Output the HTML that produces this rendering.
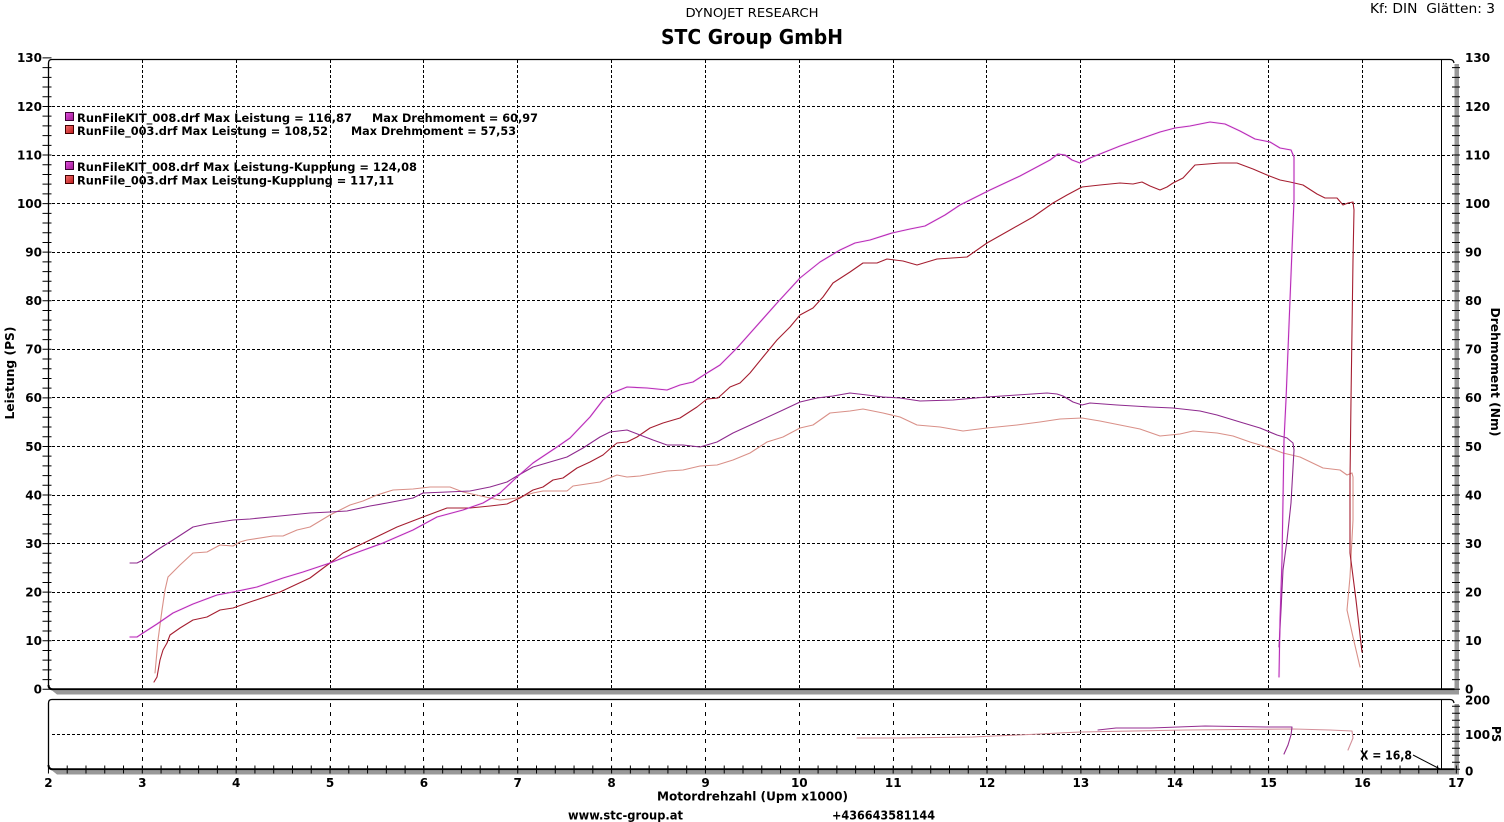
<!DOCTYPE html>
<html><head><meta charset="utf-8"><style>
html,body{margin:0;padding:0;background:#fff;}
svg{display:block;}
text{font-family:"DejaVu Sans","Liberation Sans",sans-serif;fill:#000;}
.b{font-weight:bold;font-size:12px;}
.lg{font-weight:bold;font-size:11.5px;}
</style></head><body>
<svg width="1504" height="822" viewBox="0 0 1504 822" xmlns="http://www.w3.org/2000/svg">
<defs>
<linearGradient id="gk" x1="0" y1="0" x2="1" y2="1"><stop offset="0" stop-color="#e050e0"/><stop offset="1" stop-color="#a01890"/></linearGradient>
<linearGradient id="gr" x1="0" y1="0" x2="1" y2="1"><stop offset="0" stop-color="#f07070"/><stop offset="1" stop-color="#c01818"/></linearGradient>
</defs>
<rect width="1504" height="822" fill="#fff"/>

<!-- titles -->
<text x="752" y="17" font-size="12.5" text-anchor="middle" textLength="133" lengthAdjust="spacingAndGlyphs">DYNOJET RESEARCH</text>
<text x="752" y="44" font-size="20" font-weight="bold" text-anchor="middle" textLength="182" lengthAdjust="spacingAndGlyphs">STC Group GmbH</text>
<text x="1370" y="13" font-size="13" textLength="125" lengthAdjust="spacingAndGlyphs">Kf: DIN&#160; Glätten: 3</text>

<!-- main grid -->
<g stroke="#000" stroke-width="1" stroke-dasharray="3 2" fill="none">
<line x1="142.5" y1="60" x2="142.5" y2="688"/>
<line x1="236.5" y1="60" x2="236.5" y2="688"/>
<line x1="330.5" y1="60" x2="330.5" y2="688"/>
<line x1="423.5" y1="60" x2="423.5" y2="688"/>
<line x1="517.5" y1="60" x2="517.5" y2="688"/>
<line x1="611.5" y1="60" x2="611.5" y2="688"/>
<line x1="705.5" y1="60" x2="705.5" y2="688"/>
<line x1="799.5" y1="60" x2="799.5" y2="688"/>
<line x1="893.5" y1="60" x2="893.5" y2="688"/>
<line x1="986.5" y1="60" x2="986.5" y2="688"/>
<line x1="1080.5" y1="60" x2="1080.5" y2="688"/>
<line x1="1174.5" y1="60" x2="1174.5" y2="688"/>
<line x1="1268.5" y1="60" x2="1268.5" y2="688"/>
<line x1="1362.5" y1="60" x2="1362.5" y2="688"/>
<line x1="52" y1="640.5" x2="1453" y2="640.5"/>
<line x1="52" y1="592.5" x2="1453" y2="592.5"/>
<line x1="52" y1="543.5" x2="1453" y2="543.5"/>
<line x1="52" y1="495.5" x2="1453" y2="495.5"/>
<line x1="52" y1="446.5" x2="1453" y2="446.5"/>
<line x1="52" y1="397.5" x2="1453" y2="397.5"/>
<line x1="52" y1="349.5" x2="1453" y2="349.5"/>
<line x1="52" y1="300.5" x2="1453" y2="300.5"/>
<line x1="52" y1="252.5" x2="1453" y2="252.5"/>
<line x1="52" y1="203.5" x2="1453" y2="203.5"/>
<line x1="52" y1="155.5" x2="1453" y2="155.5"/>
<line x1="52" y1="106.5" x2="1453" y2="106.5"/>
</g>

<!-- lower grid -->
<g stroke="#000" stroke-width="1" fill="none">
<g stroke-dasharray="4 5">
<line x1="142.5" y1="703" x2="142.5" y2="768"/>
<line x1="236.5" y1="703" x2="236.5" y2="768"/>
<line x1="330.5" y1="703" x2="330.5" y2="768"/>
<line x1="423.5" y1="703" x2="423.5" y2="768"/>
<line x1="517.5" y1="703" x2="517.5" y2="768"/>
<line x1="611.5" y1="703" x2="611.5" y2="768"/>
<line x1="705.5" y1="703" x2="705.5" y2="768"/>
<line x1="799.5" y1="703" x2="799.5" y2="768"/>
<line x1="893.5" y1="703" x2="893.5" y2="768"/>
<line x1="986.5" y1="703" x2="986.5" y2="768"/>
<line x1="1080.5" y1="703" x2="1080.5" y2="768"/>
<line x1="1174.5" y1="703" x2="1174.5" y2="768"/>
<line x1="1268.5" y1="703" x2="1268.5" y2="768"/>
<line x1="1362.5" y1="703" x2="1362.5" y2="768"/>
</g>
<line x1="52" y1="734.5" x2="1453" y2="734.5" stroke-dasharray="3 2"/>
</g>

<!-- main frame -->
<g fill="none" stroke="#000">
<path d="M48.5,686 L48.5,63 Q48.5,59.5 52,59.5 L1450,59.5 Q1453.5,59.5 1454,63" stroke-width="1.3"/>
<path d="M48.5,685 Q48.5,689.3 53,689.3 L1456,689.3" stroke-width="2"/>
<path d="M48.5,766 L48.5,703 Q48.5,699.5 52,699.5 L1450,699.5 Q1453.5,699.5 1454,703" stroke-width="1.3"/>
<path d="M48.5,765 Q48.5,769.3 53,769.3 L1456,769.3" stroke-width="2"/>
</g>
<!-- shadows -->
<polygon points="52,690.5 1459,690.5 1459,694.5 57,694.5" fill="#999"/>
<polygon points="52,770.5 1459,770.5 1459,774.5 57,774.5" fill="#999"/>
<rect x="1454.5" y="64" width="4.5" height="629" fill="#999"/>
<rect x="1454.5" y="704" width="4.5" height="70" fill="#999"/>

<!-- ticks -->
<line x1="47" y1="689.8" x2="47" y2="57" stroke="#000" stroke-width="9" stroke-dasharray="1 8.714"/>
<line x1="1456" y1="689.8" x2="1456" y2="62" stroke="#000" stroke-width="8" stroke-dasharray="1 8.714"/>
<line x1="1456" y1="769.8" x2="1456" y2="702" stroke="#000" stroke-width="8" stroke-dasharray="1 6"/>
<line x1="47.94" y1="769.5" x2="1458" y2="769.5" stroke="#000" stroke-width="8" stroke-dasharray="1 17.772"/>

<!-- cursor -->
<line x1="1441.5" y1="60" x2="1441.5" y2="689" stroke="#000" stroke-width="1"/>
<line x1="1441.5" y1="700" x2="1441.5" y2="769" stroke="#000" stroke-width="1"/>
<line x1="1413" y1="755" x2="1440" y2="769" stroke="#000" stroke-width="1"/>
<text x="1360" y="759.5" class="b" textLength="52" lengthAdjust="spacingAndGlyphs">X = 16,8</text>

<!-- left labels -->
<g class="b" text-anchor="end">
<text x="42" y="693.6">0</text>
<text x="42" y="645">10</text>
<text x="42" y="596.5">20</text>
<text x="42" y="547.9">30</text>
<text x="42" y="499.3">40</text>
<text x="42" y="450.8">50</text>
<text x="42" y="402.2">60</text>
<text x="42" y="353.6">70</text>
<text x="42" y="305">80</text>
<text x="42" y="256.5">90</text>
<text x="42" y="207.9">100</text>
<text x="42" y="159.3">110</text>
<text x="42" y="110.8">120</text>
<text x="42" y="62.2">130</text>
</g>
<!-- right labels -->
<g class="b">
<text x="1465" y="693.6">0</text>
<text x="1465" y="645">10</text>
<text x="1465" y="596.5">20</text>
<text x="1465" y="547.9">30</text>
<text x="1465" y="499.3">40</text>
<text x="1465" y="450.8">50</text>
<text x="1465" y="402.2">60</text>
<text x="1465" y="353.6">70</text>
<text x="1465" y="305">80</text>
<text x="1465" y="256.5">90</text>
<text x="1465" y="207.9">100</text>
<text x="1465" y="159.3">110</text>
<text x="1465" y="110.8">120</text>
<text x="1465" y="62.2">130</text>
<text x="1465" y="704.5">200</text>
<text x="1465" y="739">100</text>
<text x="1465" y="775.5">0</text>
</g>
<!-- x labels -->
<g class="b" text-anchor="middle">
<text x="48.4" y="787">2</text>
<text x="142.3" y="787">3</text>
<text x="236.2" y="787">4</text>
<text x="330" y="787">5</text>
<text x="423.9" y="787">6</text>
<text x="517.7" y="787">7</text>
<text x="611.6" y="787">8</text>
<text x="705.5" y="787">9</text>
<text x="799.3" y="787">10</text>
<text x="893.2" y="787">11</text>
<text x="987" y="787">12</text>
<text x="1080.9" y="787">13</text>
<text x="1174.8" y="787">14</text>
<text x="1268.6" y="787">15</text>
<text x="1362.5" y="787">16</text>
<text x="1456.3" y="787">17</text>
</g>

<!-- axis titles -->
<text class="b" transform="translate(14,373) rotate(-90)" text-anchor="middle" textLength="93" lengthAdjust="spacingAndGlyphs">Leistung (PS)</text>
<text class="b" transform="translate(1491,372) rotate(90)" text-anchor="middle" textLength="129" lengthAdjust="spacingAndGlyphs">Drehmoment (Nm)</text>
<text class="b" transform="translate(1492,734) rotate(90)" text-anchor="middle" textLength="16" lengthAdjust="spacingAndGlyphs">PS</text>
<text x="752.5" y="800.5" class="b" text-anchor="middle" textLength="191" lengthAdjust="spacingAndGlyphs">Motordrehzahl (Upm x1000)</text>
<text x="568" y="819.5" class="b" textLength="115" lengthAdjust="spacingAndGlyphs">www.stc-group.at</text>
<text x="832" y="819.5" class="b" textLength="103" lengthAdjust="spacingAndGlyphs">+436643581144</text>

<!-- legend -->
<rect x="65.5" y="112.5" width="8" height="8" fill="url(#gk)" stroke="#3a0030"/>
<rect x="65.5" y="125.5" width="8" height="8" fill="url(#gr)" stroke="#400000"/>
<rect x="65.5" y="161.5" width="8" height="8" fill="url(#gk)" stroke="#3a0030"/>
<rect x="65.5" y="175.5" width="8" height="8" fill="url(#gr)" stroke="#400000"/>
<text x="77" y="122" class="lg" textLength="275" lengthAdjust="spacingAndGlyphs">RunFileKIT_008.drf Max Leistung = 116,87</text>
<text x="372" y="122" class="lg" textLength="166" lengthAdjust="spacingAndGlyphs">Max Drehmoment = 60,97</text>
<text x="77" y="135" class="lg" textLength="251" lengthAdjust="spacingAndGlyphs">RunFile_003.drf Max Leistung = 108,52</text>
<text x="351" y="135" class="lg" textLength="165" lengthAdjust="spacingAndGlyphs">Max Drehmoment = 57,53</text>
<text x="77" y="171" class="lg" textLength="340" lengthAdjust="spacingAndGlyphs">RunFileKIT_008.drf Max Leistung-Kupplung = 124,08</text>
<text x="77" y="184.5" class="lg" textLength="317" lengthAdjust="spacingAndGlyphs">RunFile_003.drf Max Leistung-Kupplung = 117,11</text>

<!-- curves -->
<g fill="none" stroke-linejoin="round" stroke-linecap="round">
<polyline stroke="#f6c8f6" stroke-width="2.4" opacity="0.35" points="130,637 137,637 143,633 157,624 173,613 193,604 217,595 233,592 257,587 283,578 303,572 330,563 350,555 383,543 413,530 437,517 463,510 483,503 500,493 517,477 533,463 557,447 570,438 590,417 603,400 612,393 627,387 647,388 667,390 680,385 693,382 707,373 720,365 737,348 753,330 777,303 800,278 820,262 840,250 855,243 870,240 892,233 910,229 925,226 945,215 960,205 990,190 1020,176 1050,160 1058,154 1065,155 1072,160 1080,163 1090,158 1100,154 1120,146 1140,139 1160,132 1175,128 1190,126 1210,122 1225,124 1240,131 1255,139 1270,142 1280,148 1291,150 1294,157 1294,200 1292,250 1290,300 1288,350 1286,400 1284,440 1283,500 1282,560 1280,620 1279,677"/>

<!-- 003 torque (salmon) -->
<polyline stroke="#d99088" stroke-width="1.1" points="155,673 158,640 162,610 165,590 168,577 180,565 193,553 207,552 220,545 233,546 240,542 247,540 273,536 283,536 297,530 310,527 330,515 350,505 363,501 377,495 393,490 413,489 430,487 450,487 463,492 490,498 500,500 517,498 533,493 543,491 567,491 573,486 600,482 612,477 617,475 627,477 640,476 667,471 683,470 700,466 717,465 733,460 750,453 767,442 783,437 800,428 813,425 830,413 850,411 863,409 883,413 900,417 917,425 940,427 963,431 987,428 1017,425 1040,422 1060,419 1082,418 1100,421 1120,425 1140,429 1160,436 1180,434 1193,431 1217,433 1233,436 1250,442 1270,448 1283,453 1300,457 1323,468 1340,470 1347,475 1352,473 1353,477 1353,520 1350,577 1347,610 1353,637 1360,667"/>

<!-- 003 power (dark red) -->
<polyline stroke="#a51e30" stroke-width="1.1" points="154,682 157,677 160,660 163,650 167,643 170,635 180,628 193,620 207,617 220,610 233,608 250,602 280,592 310,578 330,563 343,553 370,540 397,527 423,517 447,508 470,508 490,506 507,504 520,498 533,490 543,487 553,480 563,478 577,468 590,462 603,455 612,447 617,443 627,442 637,437 650,428 663,423 680,418 697,407 707,399 718,398 730,387 740,383 750,373 763,357 777,340 790,327 800,315 813,308 823,297 833,283 850,272 863,263 877,263 887,259 903,261 917,265 937,259 967,257 987,243 1010,230 1033,217 1053,203 1067,195 1082,187 1100,185 1120,183 1133,184 1142,182 1150,186 1160,190 1167,187 1173,183 1183,178 1195,165 1220,163 1237,163 1253,169 1267,175 1280,180 1290,182 1303,185 1317,194 1325,198 1337,198 1343,205 1348,203 1353,202 1354,210 1353,260 1352,330 1351,400 1350,480 1350,553 1356,600 1362,652"/>

<!-- KIT torque (purple) -->
<polyline stroke="#8e2a8e" stroke-width="1.1" points="130,563 137,563 143,560 157,550 173,540 193,527 207,524 233,520 250,519 280,516 310,513 330,512 347,511 370,506 387,503 413,498 423,493 447,492 470,491 490,487 507,482 517,476 533,467 567,457 583,448 600,437 610,432 627,430 640,435 653,440 667,445 683,445 700,447 717,442 733,433 757,422 783,410 800,402 817,398 833,396 850,393 867,395 883,397 900,398 920,401 953,400 987,397 1017,395 1047,393 1057,394 1063,396 1073,402 1082,405 1090,403 1117,405 1150,407 1173,408 1200,411 1217,415 1240,422 1260,428 1277,435 1287,438 1293,443 1294,450 1291,503 1287,540 1283,570 1281,610 1279,647"/>

<!-- KIT power (magenta) -->
<polyline stroke="#b82cb8" stroke-width="1.1" points="130,637 137,637 143,633 157,624 173,613 193,604 217,595 233,592 257,587 283,578 303,572 330,563 350,555 383,543 413,530 437,517 463,510 483,503 500,493 517,477 533,463 557,447 570,438 590,417 603,400 612,393 627,387 647,388 667,390 680,385 693,382 707,373 720,365 737,348 753,330 777,303 800,278 820,262 840,250 855,243 870,240 892,233 910,229 925,226 945,215 960,205 990,190 1020,176 1050,160 1058,154 1065,155 1072,160 1080,163 1090,158 1100,154 1120,146 1140,139 1160,132 1175,128 1190,126 1210,122 1225,124 1240,131 1255,139 1270,142 1280,148 1291,150 1294,157 1294,200 1292,250 1290,300 1288,350 1286,400 1284,440 1283,500 1282,560 1280,620 1279,677"/>

<!-- lower panel -->
<polyline stroke="#d4909a" stroke-width="1.1" points="857,738 900,738 973,737 994,736 1019,735 1059,733 1080,732 1187,730 1294,729 1330,730 1352,731 1353,738 1348,750"/>
<polyline stroke="#952c90" stroke-width="1.1" points="1098,730 1116,728 1151,728 1205,726 1266,727 1292,727 1291,735 1288,745 1284,754"/>
</g>
</svg>
</body></html>
